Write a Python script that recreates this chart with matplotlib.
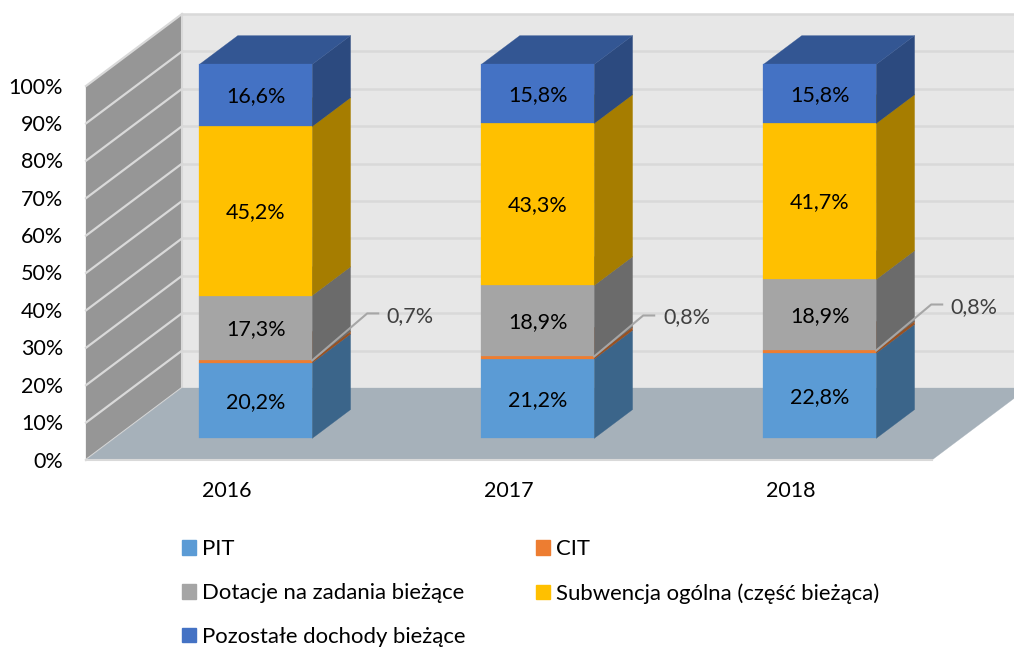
import matplotlib
matplotlib.use('Agg')
import matplotlib.pyplot as plt
from matplotlib.patches import Patch

plt.rcParams['font.family'] = ['Lato', 'DejaVu Sans']

# dane
years = ['2016', '2017', '2018']
names = ['PIT', 'CIT', 'Dotacje na zadania bieżące', 'Subwencja ogólna (część bieżąca)', 'Pozostałe dochody bieżące']
pit = [20.2, 21.2, 22.8]
cit = [0.7, 0.8, 0.8]
dotacje = [17.3, 18.9, 18.9]
subwencja = [45.2, 43.3, 41.7]
pozostale = [16.6, 15.8, 15.8]
yticks = [0, 10, 20, 30, 40, 50, 60, 70, 80, 90, 100]

series = [pit, cit, dotacje, subwencja, pozostale]
colors = ['#5B9BD5', '#ED7D31', '#A5A5A5', '#FFC000', '#4472C4']

W, H = 1014, 648
x0_px, y0_px = 86, 460      # poczatek ukladu (lewy przedni rog podlogi)
px_x, px_y = 282.0, 3.74    # pikseli na kategorie / na 1%

fig = plt.figure(figsize=(W / 100, H / 100), dpi=100)
ax = fig.add_axes([0, 0, 1, 1])
ax.set_xlim(-x0_px / px_x, (W - x0_px) / px_x)
ax.set_ylim(-(H - y0_px) / px_y, y0_px / px_y)
ax.axis('off')

# rzut ukosny: glebokosc d w zakresie 0 (przod) .. 1 (tyl)
skew_x = 96 / px_x
skew_y = 72 / px_y


def pr(x, y, d=0.0):
    return x + skew_x * d, y + skew_y * d


def poly(points, color, z=1):
    xs = [p[0] for p in points]
    ys = [p[1] for p in points]
    ax.fill(xs, ys, facecolor=color, edgecolor=color, lw=0.2, zorder=z)


def shade(c, f):
    rgb = matplotlib.colors.to_rgb(c)
    return tuple(v * f for v in rgb)


n = len(years)
top = yticks[-1]

# sciany i podloga
poly([pr(0, 0, 1), pr(n, 0, 1), pr(n, top, 1), pr(0, top, 1)], '#E7E7E7')
poly([pr(0, 0, 0), pr(0, 0, 1), pr(0, top, 1), pr(0, top, 0)], '#969696')
poly([pr(0, 0, 0), pr(n, 0, 0), pr(n, 0, 1), pr(0, 0, 1)], '#A6B1BA', z=1.5)

for t in yticks:
    a, b = pr(0, t, 1), pr(n, t, 1)
    if t > 0:
        ax.plot([a[0], b[0]], [a[1], b[1]], color='#D9D9D9', lw=1.8, zorder=1.2)
    a, b = pr(0, t, 0), pr(0, t, 1)
    ax.plot([a[0], b[0]], [a[1], b[1]], color='#D9D9D9', lw=1.6, zorder=1.3)
    ax.text(-23 / px_x, t - 1.5 / px_y, f'{t}%', ha='right', va='center', fontsize=15.5, color='black')

a, b = pr(0, 0, 0), pr(n, 0, 0)
ax.plot([a[0], b[0]], [a[1], b[1]], color='#D9D9D9', lw=1.5, zorder=1.6)
a, b = pr(0, 0, 1), pr(0, top, 1)
ax.plot([a[0], b[0]], [a[1], b[1]], color='#D9D9D9', lw=1.5, zorder=1.25)

# slupki
bar_w = 0.4
d_front, d_back = 0.3, 0.7
# odsuniecia opisow CIT w pikselach (zalamanie linii, srodek tekstu)
callouts = [((55, 47), (98, 44)), ((49, 41), (93, 39)), ((55, 46), (98, 43))]

for i, year in enumerate(years):
    xl = i + 0.5 - bar_w / 2
    xr = i + 0.5 + bar_w / 2
    base = 0.0
    for s, vals in enumerate(series):
        v = vals[i]
        y1 = base
        y2 = base + v
        c = colors[s]
        z = 2 + s * 0.1
        poly([pr(xr, y1, d_front), pr(xr, y1, d_back), pr(xr, y2, d_back), pr(xr, y2, d_front)], shade(c, 0.65), z)
        poly([pr(xl, y2, d_front), pr(xr, y2, d_front), pr(xr, y2, d_back), pr(xl, y2, d_back)], shade(c, 0.75), z)
        poly([pr(xl, y1, d_front), pr(xr, y1, d_front), pr(xr, y2, d_front), pr(xl, y2, d_front)], c, z + 0.05)
        label = f'{v:.1f}%'.replace('.', ',')
        if s == 1:
            sx, sy = pr(xr, (y1 + y2) / 2 + 0.3, d_front)
            (kx, ky), (tx, ty) = callouts[i]
            ax.plot([sx, sx + kx / px_x, sx + (kx + 11) / px_x],
                    [sy, sy + ky / px_y, sy + ky / px_y],
                    color='#A6A6A6', lw=1.5, zorder=3)
            ax.text(sx + tx / px_x, sy + ty / px_y, label, ha='center', va='center',
                    fontsize=15.5, color='#404040', zorder=4)
        else:
            cx, cy = pr(i + 0.5, (y1 + y2) / 2, d_front)
            ax.text(cx, cy - 1 / px_y, label, ha='center', va='center', fontsize=15.5, color='black', zorder=4)
        base = y2
    ax.text(i + 0.5, -31 / px_y, year, ha='center', va='center', fontsize=15.5, color='black')

# legenda - kolumnami, wiec kolejnosc przestawiona
order = [0, 2, 4, 1, 3]
handles = [Patch(facecolor=colors[k], edgecolor=colors[k]) for k in order]
labels = [names[k] for k in order]
leg = ax.legend(handles, labels, ncols=2, frameon=False, fontsize=15.9,
                loc='lower left', bbox_to_anchor=(182 / W, 1 / H),
                handlelength=0.63, handleheight=0.63, handletextpad=0.28,
                labelspacing=1.08, columnspacing=3.2, borderaxespad=0, borderpad=0)

fig.savefig('out.png', dpi=100)
